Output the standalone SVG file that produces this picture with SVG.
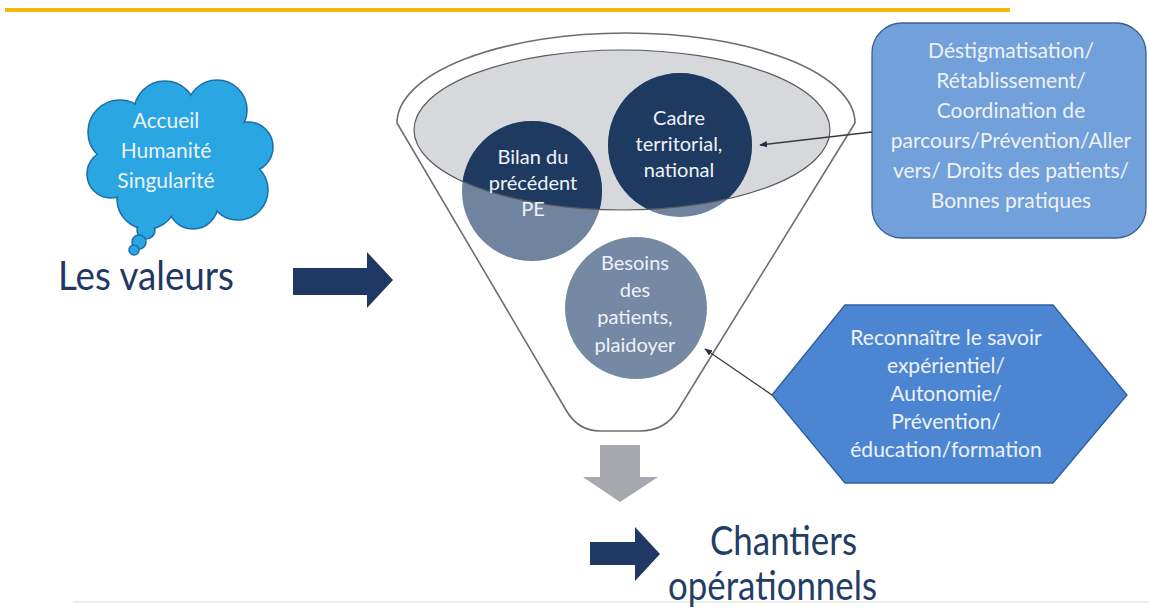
<svg xmlns="http://www.w3.org/2000/svg" width="1149" height="610" viewBox="0 0 1149 610">
  <style>
    .t { font-family: Lato, "Liberation Sans", sans-serif; }
    .big { font-size: 41px; fill: #1F3864; }
    .lbl { font-size: 21px; fill: #EEF2F8; text-anchor: middle; }
    .clbl { font-size: 20px; fill: #EEF2F8; text-anchor: middle; }
    .circ-light { fill: #7084A0; }
    .circ-dark { fill: #1F3A60; }
    .conn { stroke: #3a3a3a; stroke-width: 1.3; fill: none; }
    .navy { fill: #1F3864; }
  </style>
  <defs>
    <marker id="ah" viewBox="0 0 10 10" refX="9" refY="5" markerWidth="6" markerHeight="6" orient="auto">
      <path d="M0,1 L10,5 L0,9 Z" fill="#1F2F4A"/>
    </marker>
    <clipPath id="ellClip">
      <ellipse cx="622" cy="130" rx="208" ry="80"/>
    </clipPath>
  </defs>
  <rect width="1149" height="610" fill="#FFFFFF"/>

  <!-- top yellow rule -->
  <line x1="5" y1="10" x2="1010" y2="10" stroke="#F3B80E" stroke-width="4"/>
  <!-- bottom faint rule -->
  <line x1="73" y1="602" x2="1149" y2="602" stroke="#E8E8E8" stroke-width="1.5"/>

  <!-- Cloud -->
  <g id="cloud">
    <g fill="#2AA6E2" stroke="#1E6FA8" stroke-width="1.6">
      <circle cx="120" cy="132" r="32"/>
      <circle cx="165" cy="112" r="31"/>
      <circle cx="217" cy="110" r="30"/>
      <circle cx="248" cy="147" r="25"/>
      <circle cx="238" cy="190" r="30"/>
      <circle cx="193" cy="204" r="25"/>
      <circle cx="147" cy="199" r="30"/>
      <circle cx="111" cy="174" r="24"/>
      <circle cx="146" cy="230" r="9"/>
      <circle cx="139" cy="242" r="7"/>
      <circle cx="134" cy="250" r="5"/>
    </g>
    <g fill="#2AA6E2">
      <circle cx="120" cy="132" r="31"/>
      <circle cx="165" cy="112" r="30"/>
      <circle cx="217" cy="110" r="29"/>
      <circle cx="248" cy="147" r="24"/>
      <circle cx="238" cy="190" r="29"/>
      <circle cx="193" cy="204" r="24"/>
      <circle cx="147" cy="199" r="29"/>
      <circle cx="111" cy="174" r="23"/>
      <ellipse cx="178" cy="156" rx="72" ry="52"/>
    </g>
    <text class="t lbl" x="166" y="128">Accueil</text>
    <text class="t lbl" x="166" y="158">Humanité</text>
    <text class="t lbl" x="166" y="188">Singularité</text>
  </g>

  <g id="les-valeurs">
    <text class="t big" x="58" y="290" textLength="176" lengthAdjust="spacingAndGlyphs">Les valeurs</text>
  </g>

  <g id="arrow-valeurs">
    <polygon class="navy" points="293,268 367,268 367,252 393,280 367,308 367,295 293,295"/>
  </g>

  <!-- Funnel -->
  <g id="funnel">
    <path d="M397,123 A229,90 0 0 1 855,123 L678,410 Q665,431 640,431 L600,431 Q578,431 566,410 Z" fill="none" stroke="#6E6E6E" stroke-width="1.6"/>
    <ellipse cx="622" cy="130" rx="208" ry="80" fill="#D7D8DC"/>
  </g>

  <g id="bilan">
    <circle class="circ-light" cx="532" cy="191" r="70"/>
    <circle class="circ-dark" cx="532" cy="191" r="70" clip-path="url(#ellClip)"/>
  </g>
  <g id="cadre">
    <circle class="circ-light" cx="680" cy="145" r="72"/>
    <circle class="circ-dark" cx="680" cy="145" r="72" clip-path="url(#ellClip)"/>
  </g>
  <ellipse cx="622" cy="130" rx="208" ry="80" fill="none" stroke="#5C5C5C" stroke-width="1.2"/>
  <g id="bilan-text">
    <text class="t clbl" x="533" y="164">Bilan du</text>
    <text class="t clbl" x="533" y="190">précédent</text>
    <text class="t clbl" x="533" y="216">PE</text>
  </g>
  <g id="cadre-text">
    <text class="t clbl" x="679" y="125">Cadre</text>
    <text class="t clbl" x="679" y="151">territorial,</text>
    <text class="t clbl" x="679" y="177">national</text>
  </g>
  <g id="besoins">
    <circle cx="636" cy="308" r="71" fill="#7589A4"/>
    <text class="t clbl" x="635" y="270">Besoins</text>
    <text class="t clbl" x="635" y="297">des</text>
    <text class="t clbl" x="635" y="324">patients,</text>
    <text class="t clbl" x="635" y="352">plaidoyer</text>
  </g>

  <g id="arrow-down">
    <polygon points="600,445 640,445 640,477 658,477 620,502 583,477 600,477" fill="#A6A7AF"/>
  </g>

  <g id="destig">
    <rect x="872" y="23" width="274" height="215" rx="30" ry="30" fill="#71A0DA" stroke="#3A5F95" stroke-width="1.3"/>
    <text class="t lbl" x="1011" y="58">Déstigmatisation/</text>
    <text class="t lbl" x="1011" y="88">Rétablissement/</text>
    <text class="t lbl" x="1011" y="118">Coordination de</text>
    <text class="t lbl" x="1011" y="148">parcours/Prévention/Aller</text>
    <text class="t lbl" x="1011" y="178">vers/ Droits des patients/</text>
    <text class="t lbl" x="1011" y="208">Bonnes pratiques</text>
  </g>

  <g id="reconnaitre">
    <polygon points="772,395 845,305 1053,305 1127,395 1053,483 845,483" fill="#4C86D2" stroke="#2F5E9E" stroke-width="1.3"/>
    <text class="t lbl" x="946" y="345">Reconnaître le savoir</text>
    <text class="t lbl" x="946" y="373">expérientiel/</text>
    <text class="t lbl" x="946" y="401">Autonomie/</text>
    <text class="t lbl" x="946" y="429">Prévention/</text>
    <text class="t lbl" x="946" y="457">éducation/formation</text>
  </g>

  <g id="connectors">
    <path class="conn" d="M872,132 L760,145" marker-end="url(#ah)"/>
    <path class="conn" d="M772,395 L705,349" marker-end="url(#ah)"/>
  </g>

  <g id="arrow-chantiers">
    <polygon class="navy" points="590,542 635,542 635,527 660,554 635,581 635,565 590,565"/>
  </g>

  <g id="chantiers">
    <text class="t big" x="710" y="555" textLength="147" lengthAdjust="spacingAndGlyphs" style="fill:#233E66">Chantiers</text>
    <text class="t big" x="668" y="600" textLength="209" lengthAdjust="spacingAndGlyphs" style="fill:#233E66">opérationnels</text>
  </g>
</svg>
